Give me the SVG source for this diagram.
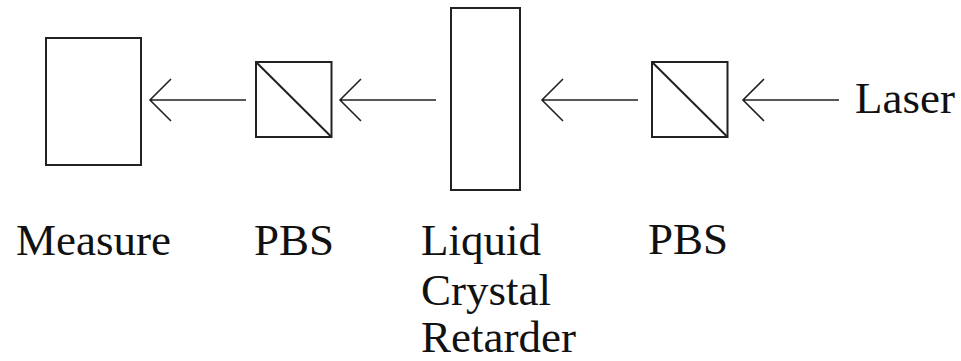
<svg xmlns="http://www.w3.org/2000/svg" width="961" height="361" viewBox="0 0 961 361">
<rect width="961" height="361" fill="#fff"/>
<g fill="none" stroke="#222" stroke-width="2">
<g id="measure">
<rect x="46" y="38" width="95" height="127"/>
<text x="16" y="255" font-family="Liberation Serif, serif" font-size="45" fill="#111" stroke="none">Measure</text>
</g>
<g id="pbs1">
<rect x="256" y="62" width="75.5" height="75"/>
<line x1="256" y1="62" x2="331.5" y2="137"/>
<text x="254" y="255" font-family="Liberation Serif, serif" font-size="45" fill="#111" stroke="none">PBS</text>
</g>
<g id="lcr">
<rect x="451" y="8" width="69" height="182"/>
<text x="421" y="255" font-family="Liberation Serif, serif" font-size="45" fill="#111" stroke="none">Liquid</text>
<text x="421" y="305" font-family="Liberation Serif, serif" font-size="45" fill="#111" stroke="none">Crystal</text>
<text x="421" y="352" font-family="Liberation Serif, serif" font-size="45" fill="#111" stroke="none">Retarder</text>
</g>
<g id="pbs2">
<rect x="652" y="62" width="75.5" height="75"/>
<line x1="652" y1="62" x2="727.5" y2="137"/>
<text x="648" y="254" font-family="Liberation Serif, serif" font-size="45" fill="#111" stroke="none">PBS</text>
</g>
<g id="laser">
<text x="855" y="113" font-family="Liberation Serif, serif" font-size="45" fill="#111" stroke="none">Laser</text>
</g>
<g id="connectors" stroke-width="1.6">
<path d="M246 100H150M171 79L150 100L171 121"/>
<path d="M436 100H340M361 79L340 100L361 121"/>
<path d="M638 100H542M563 79L542 100L563 121"/>
<path d="M839 100H743M764 79L743 100L764 121"/>
</g>
</g>
</svg>
